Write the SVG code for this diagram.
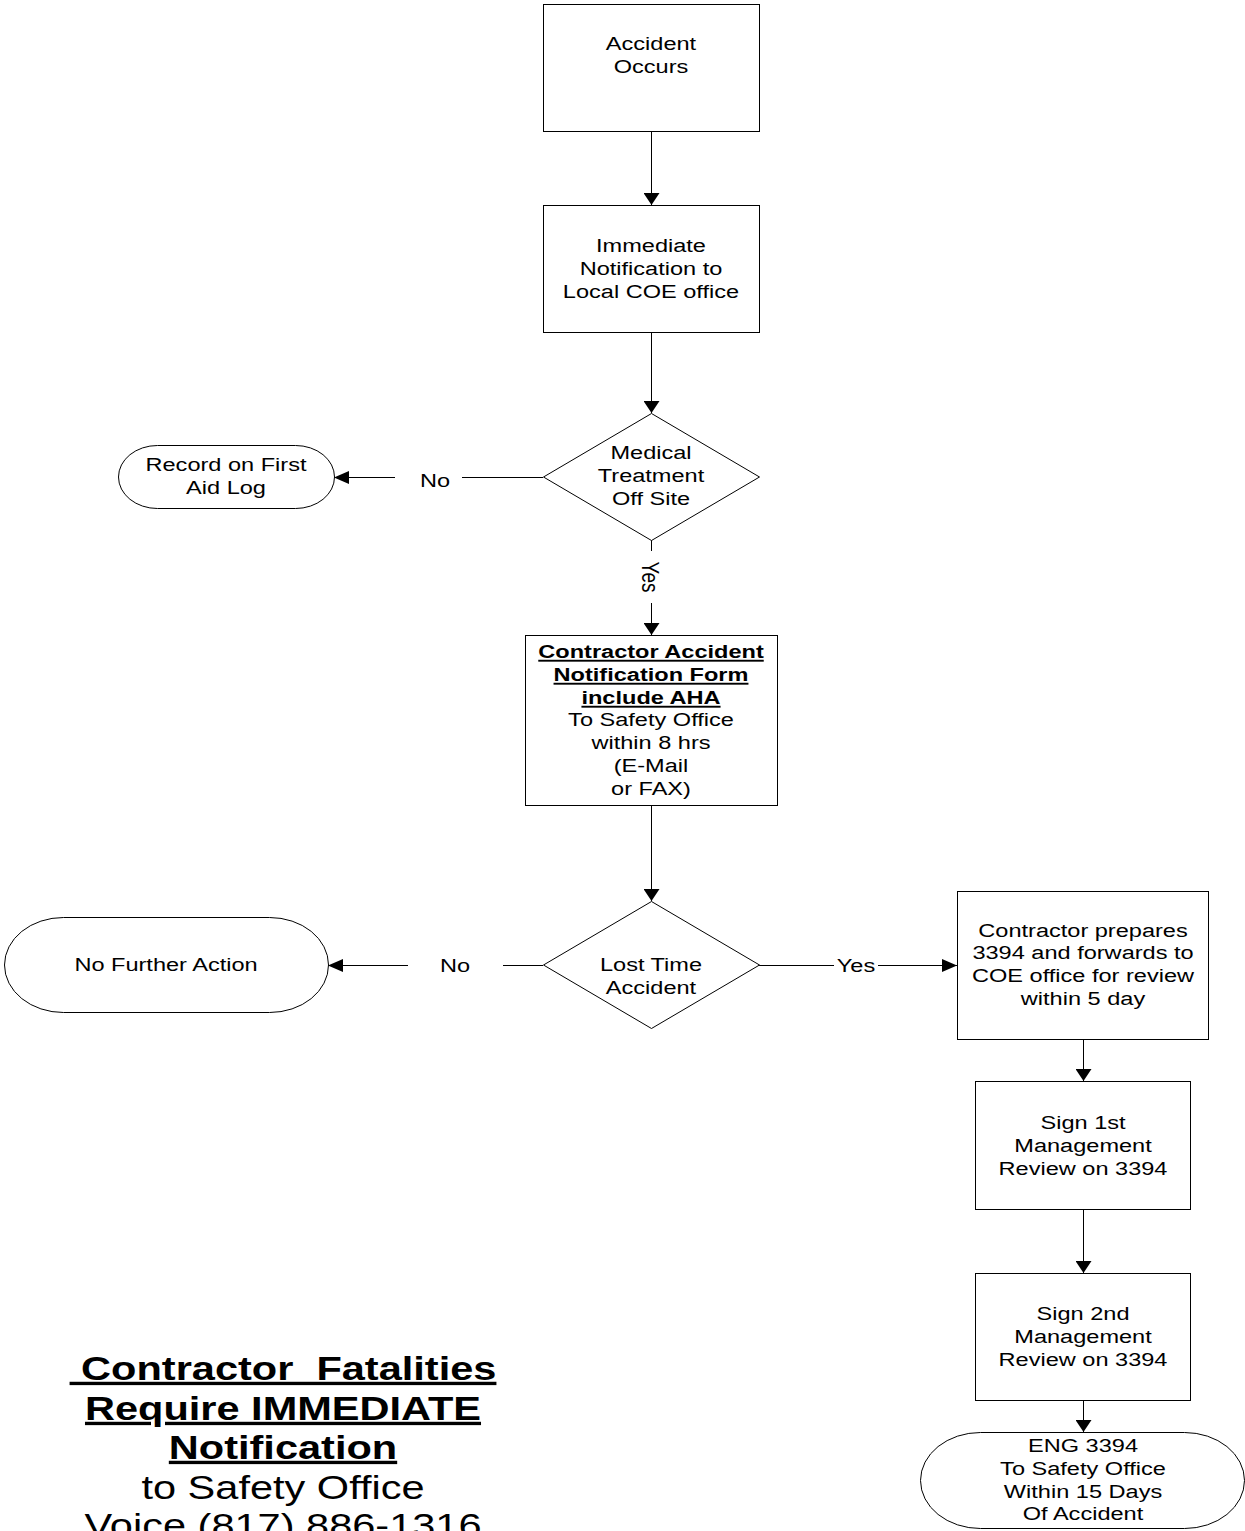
<svg xmlns="http://www.w3.org/2000/svg" width="1245" height="1531" viewBox="0 0 1245 1531">
<style>
.t{font-family:"Liberation Sans",Arial,sans-serif;font-size:19px;text-anchor:middle;fill:#000}
.b{font-weight:bold;text-decoration:underline}
.big{font-size:33.5px}
.s{fill:#fff;stroke:#000;stroke-width:1}
.c{stroke:#000;stroke-width:1;fill:none}
.v{marker-end:url(#av)}
.h{marker-end:url(#ahz)}
</style>
<defs>
<marker id="av" markerUnits="userSpaceOnUse" markerWidth="12" markerHeight="16" refX="12" refY="8" orient="auto" viewBox="0 0 12 16">
<path d="M0,0 L12,8 L0,16 z" fill="#000"/>
</marker>
<marker id="ahz" markerUnits="userSpaceOnUse" markerWidth="15" markerHeight="13" refX="15" refY="6.5" orient="auto" viewBox="0 0 15 13">
<path d="M0,0 L15,6.5 L0,13 z" fill="#000"/>
</marker>
</defs>
<rect width="1245" height="1531" fill="#fff"/>

<g id="connectors">
<line class="c v" x1="651.5" y1="131" x2="651.5" y2="205"/>
<line class="c v" x1="651.5" y1="332" x2="651.5" y2="413"/>
<line class="c" x1="543" y1="477.5" x2="462" y2="477.5"/>
<line class="c h" x1="395" y1="477.5" x2="334" y2="477.5"/>
<line class="c" x1="651.5" y1="540" x2="651.5" y2="551"/>
<line class="c v" x1="651.5" y1="603" x2="651.5" y2="635"/>
<line class="c v" x1="651.5" y1="805" x2="651.5" y2="901"/>
<line class="c" x1="543" y1="965.5" x2="503" y2="965.5"/>
<line class="c h" x1="408" y1="965.5" x2="328" y2="965.5"/>
<line class="c" x1="759" y1="965.5" x2="834" y2="965.5"/>
<line class="c h" x1="878" y1="965.5" x2="957" y2="965.5"/>
<line class="c v" x1="1083.5" y1="1039" x2="1083.5" y2="1081"/>
<line class="c v" x1="1083.5" y1="1209" x2="1083.5" y2="1273"/>
<line class="c v" x1="1083.5" y1="1400" x2="1083.5" y2="1432"/>
<text class="t" transform="translate(435 0) scale(1.24 1)" x="0" y="487">No</text>
<text class="t" transform="translate(651 577) rotate(90) scale(1 1.24)" x="0" y="7">Yes</text>
<text class="t" transform="translate(455 0) scale(1.24 1)" x="0" y="972">No</text>
<text class="t" transform="translate(856 0) scale(1.24 1)" x="0" y="972">Yes</text>
</g>

<g id="accident-occurs">
<rect class="s" x="543.5" y="4.5" width="216" height="127"/>
<text class="t" transform="translate(651 0) scale(1.24 1)"><tspan x="0" y="50">Accident</tspan><tspan x="0" y="73">Occurs</tspan></text>
</g>

<g id="immediate-notification">
<rect class="s" x="543.5" y="205.5" width="216" height="127"/>
<text class="t" transform="translate(651 0) scale(1.24 1)"><tspan x="0" y="252">Immediate</tspan><tspan x="0" y="275">Notification to</tspan><tspan x="0" y="298">Local COE office</tspan></text>
</g>

<g id="medical-treatment">
<polygon class="s" points="651.5,413.5 759.5,477 651.5,540.5 543.5,477"/>
<text class="t" transform="translate(651 0) scale(1.24 1)"><tspan x="0" y="459">Medical</tspan><tspan x="0" y="482">Treatment</tspan><tspan x="0" y="505">Off Site</tspan></text>
</g>

<g id="first-aid-log">
<rect class="s" x="118.5" y="445.5" width="216" height="63" rx="39" ry="31.5"/>
<text class="t" transform="translate(226 0) scale(1.24 1)"><tspan x="0" y="471">Record on First</tspan><tspan x="0" y="494">Aid Log</tspan></text>
</g>

<g id="notification-form">
<rect class="s" x="525.5" y="635.5" width="252" height="170"/>
<text class="t" transform="translate(651 0) scale(1.24 1)"><tspan class="b" x="0" y="658">Contractor Accident</tspan><tspan class="b" x="0" y="681">Notification Form</tspan><tspan class="b" x="0" y="704">include AHA</tspan><tspan x="0" y="726">To Safety Office</tspan><tspan x="0" y="749">within 8 hrs</tspan><tspan x="0" y="772">(E-Mail</tspan><tspan x="0" y="795">or FAX)</tspan></text>
</g>

<g id="lost-time">
<polygon class="s" points="651.5,901.5 759.5,965 651.5,1028.5 543.5,965"/>
<text class="t" transform="translate(651 0) scale(1.24 1)"><tspan x="0" y="971">Lost Time</tspan><tspan x="0" y="994">Accident</tspan></text>
</g>

<g id="no-further-action">
<rect class="s" x="4.5" y="917.5" width="324" height="95" rx="59" ry="47.5"/>
<text class="t" transform="translate(166 0) scale(1.24 1)" x="0" y="971">No Further Action</text>
</g>

<g id="contractor-prepares">
<rect class="s" x="957.5" y="891.5" width="251" height="148"/>
<text class="t" transform="translate(1083 0) scale(1.24 1)"><tspan x="0" y="937">Contractor prepares</tspan><tspan x="0" y="959">3394 and forwards to</tspan><tspan x="0" y="982">COE office for review</tspan><tspan x="0" y="1005">within 5 day</tspan></text>
</g>

<g id="first-review">
<rect class="s" x="975.5" y="1081.5" width="215" height="128"/>
<text class="t" transform="translate(1083 0) scale(1.24 1)"><tspan x="0" y="1129">Sign 1st</tspan><tspan x="0" y="1152">Management</tspan><tspan x="0" y="1175">Review on 3394</tspan></text>
</g>

<g id="second-review">
<rect class="s" x="975.5" y="1273.5" width="215" height="127"/>
<text class="t" transform="translate(1083 0) scale(1.24 1)"><tspan x="0" y="1320">Sign 2nd</tspan><tspan x="0" y="1343">Management</tspan><tspan x="0" y="1366">Review on 3394</tspan></text>
</g>

<g id="eng-3394">
<rect class="s" x="920.5" y="1432.5" width="324" height="96" rx="60" ry="48"/>
<text class="t" transform="translate(1083 0) scale(1.24 1)"><tspan x="0" y="1452">ENG 3394</tspan><tspan x="0" y="1475">To Safety Office</tspan><tspan x="0" y="1498">Within 15 Days</tspan><tspan x="0" y="1520">Of Accident</tspan></text>
</g>

<g id="fatalities-note">
<text class="t big" transform="translate(283 0) scale(1.24 1)" style="white-space:pre"><tspan class="b" x="0" y="1380"> Contractor  Fatalities</tspan><tspan class="b" x="0" y="1420">Require IMMEDIATE</tspan><tspan class="b" x="0" y="1459">Notification</tspan><tspan x="0" y="1499">to Safety Office</tspan><tspan x="0" y="1537">Voice (817) 886-1316</tspan></text>
</g>
</svg>
